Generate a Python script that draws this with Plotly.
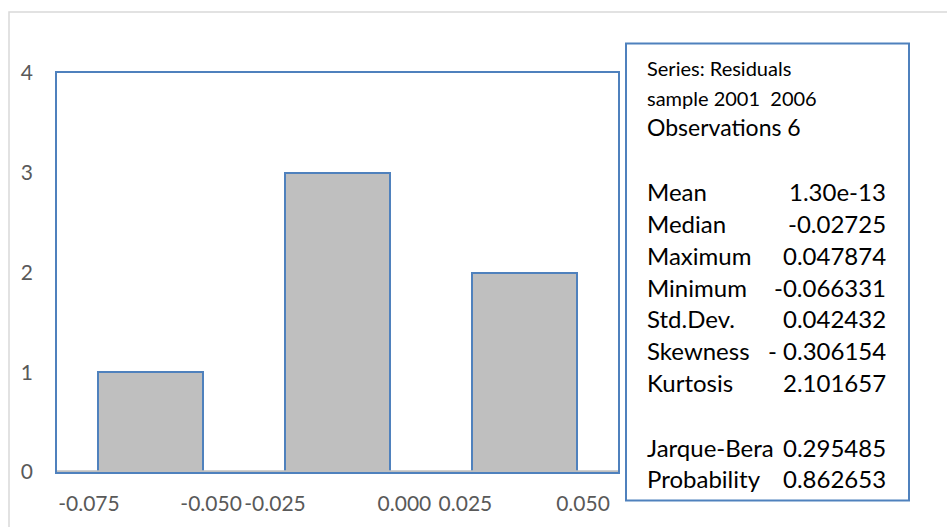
import plotly.graph_objects as go

# ---- data ----
bins = ["[-0.075, -0.050)", "[-0.025, 0.000)", "[0.025, 0.050)"]
counts = [1, 3, 2]
x_tick_labels = ["-0.075", "-0.050", "-0.025", "0.000", "0.025", "0.050"]
y_ticks = [0, 1, 2, 3, 4]

header_lines = ["Series: Residuals", "sample 2001\u00a0\u00a02006", "Observations 6"]
stat_names = ["Mean", "Median", "Maximum", "Minimum", "Std.Dev.", "Skewness", "Kurtosis",
              "Jarque-Bera", "Probability"]
stat_values = ["1.30e-13", "-0.02725", "0.047874", "-0.066331", "0.042432", "- 0.306154",
               "2.101657", "0.295485", "0.862653"]

# ---- layout constants (pixels) ----
W, H = 947, 527
SY = 0.984  # vertical compression observed in the captured page
L, R = 57, 618
T, B = 72 / SY, 478 / SY
FONT = "Lato, Carlito, Calibri, sans-serif"
BLUE = "#4F81BD"
GRAY_TXT = "#595959"


def px_x(p):
    return (p - L) / (R - L)


def px_y(p):
    return (B - p / SY) / (B - T)


bar_pos = [i + 0.5 for i in range(len(bins))]
bar_w = 0.56
# tick label positions along the category axis (around the bar edges)
tick_pos = [0.171, 0.824, 1.166, 1.858, 2.184, 2.813]

fig = go.Figure()
fig.add_trace(go.Bar(
    x=bar_pos, y=counts, width=bar_w,
    marker=dict(color="#BFBFBF", line=dict(color=BLUE, width=2)),
    hovertext=bins, showlegend=False,
))

shapes = []
# outer chart border
shapes.append(dict(type="rect", xref="paper", yref="paper",
                   x0=px_x(9), x1=px_x(980), y0=px_y(570), y1=px_y(10),
                   line=dict(color="#D9D9D9", width=1.5), layer="below"))
# baseline
shapes.append(dict(type="line", xref="paper", yref="y", x0=0, x1=1, y0=0, y1=0,
                   line=dict(color="#BFBFBF", width=3.5), layer="above"))
# stats text box
shapes.append(dict(type="rect", xref="paper", yref="paper",
                   x0=px_x(626), x1=px_x(909), y0=px_y(507), y1=px_y(42),
                   line=dict(color=BLUE, width=2), fillcolor="white", layer="above"))

annotations = []
header_y = [67, 97, 127]
header_size = [20, 20, 23]
for txt, yy, sz in zip(header_lines, header_y, header_size):
    annotations.append(dict(text=txt, x=px_x(645), y=px_y(yy), xref="paper", yref="paper",
                            xanchor="left", yanchor="middle", showarrow=False,
                            font=dict(family=FONT, size=sz, color="black")))
stat_y = [193, 225, 258, 290, 322, 354, 387, 453, 485]
for name, val, yy in zip(stat_names, stat_values, stat_y):
    annotations.append(dict(text=name, x=px_x(645), y=px_y(yy), xref="paper", yref="paper",
                            xanchor="left", yanchor="middle", showarrow=False,
                            font=dict(family=FONT, size=24, color="black")))
    annotations.append(dict(text=val, x=px_x(888), y=px_y(yy), xref="paper", yref="paper",
                            xanchor="right", yanchor="middle", showarrow=False,
                            font=dict(family=FONT, size=24, color="black")))

fig.update_layout(
    width=W, height=H,
    margin=dict(l=L, r=W - R, t=T, b=H - B, pad=0),
    plot_bgcolor="white", paper_bgcolor="white",
    shapes=shapes, annotations=annotations,
    xaxis=dict(range=[0, 3], showgrid=False, zeroline=False,
               tickmode="array", tickvals=tick_pos, ticktext=x_tick_labels,
               ticks="", ticklabelstandoff=12,
               tickfont=dict(family=FONT, size=21, color=GRAY_TXT),
               showline=True, linecolor=BLUE, linewidth=1.5, mirror=True),
    yaxis=dict(range=[0, 4], showgrid=False, zeroline=False,
               tickmode="array", tickvals=y_ticks,
               ticks="", ticklabelstandoff=18,
               tickfont=dict(family=FONT, size=21, color=GRAY_TXT),
               showline=True, linecolor=BLUE, linewidth=1.5, mirror=True),
    bargap=0,
)

fig.write_html(
    "out.html",
    config={"displayModeBar": False},
    post_script="document.body.style.margin='0px';"
                "document.documentElement.style.overflow='hidden';",
)
